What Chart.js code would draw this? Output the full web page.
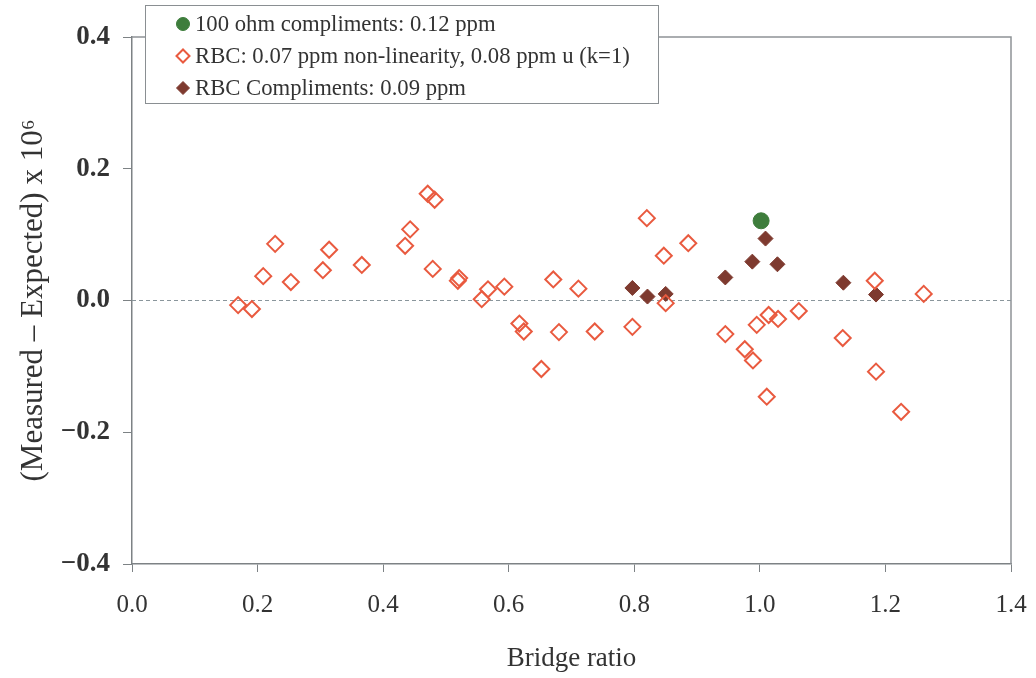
<!DOCTYPE html>
<html>
<head>
<meta charset="utf-8">
<script src="https://cdn.jsdelivr.net/npm/chart.js@4.4.0/dist/chart.umd.min.js"></script>
<style>
  html, body { margin: 0; padding: 0; background: #ffffff; }
  #wrap { width: 1036px; height: 678px; position: relative; }
</style>
</head>
<body>
<div id="wrap"><canvas id="c" width="1036" height="678"></canvas></div>
<script>
// ---- Data ----
const ohmX = [1.002];
const ohmY = [0.121];

const rbcX = [0.169, 0.191, 0.209, 0.228, 0.253, 0.304, 0.314, 0.366, 0.435, 0.443,
              0.471, 0.482, 0.479, 0.521, 0.519, 0.557, 0.567, 0.593, 0.617, 0.624,
              0.652, 0.671, 0.680, 0.711, 0.737, 0.797, 0.820, 0.847, 0.850, 0.886,
              0.945, 0.976, 0.989, 0.995, 1.011, 1.014, 1.029, 1.062, 1.132, 1.183,
              1.185, 1.225, 1.261];
const rbcY = [-0.007, -0.013, 0.037, 0.086, 0.028, 0.046, 0.077, 0.054, 0.083, 0.108,
              0.162, 0.153, 0.048, 0.034, 0.030, 0.002, 0.017, 0.021, -0.035, -0.047,
              -0.104, 0.032, -0.048, 0.018, -0.047, -0.040, 0.125, 0.068, -0.004, 0.087,
              -0.051, -0.074, -0.091, -0.037, -0.146, -0.022, -0.028, -0.016, -0.057, 0.030,
              -0.108, -0.169, 0.010];

const compX = [0.797, 0.821, 0.850, 0.945, 0.988, 1.009, 1.028, 1.133, 1.185];
const compY = [0.019, 0.006, 0.010, 0.035, 0.059, 0.094, 0.055, 0.027, 0.009];

const zeroLineX = [0, 1.4];
const zeroLineY = [0, 0];

const xTicks = [0, 0.2, 0.4, 0.6, 0.8, 1.0, 1.2, 1.4];
const yTicks = [-0.4, -0.2, 0.0, 0.2, 0.4];

const labels = {
  ohm: '100 ohm compliments: 0.12 ppm',
  rbc: 'RBC: 0.07 ppm non-linearity, 0.08 ppm u (k=1)',
  comp: 'RBC Compliments: 0.09 ppm',
  xTitle: 'Bridge ratio',
  yTitle: '(Measured \u2013 Expected) x 10\u2076'
};

const pts = (xs, ys) => xs.map((x, i) => ({ x: x, y: ys[i] }));

const SERIF = '"Liberation Serif", "Times New Roman", "DejaVu Serif", serif';
const TEXT = '#333333';
const AXIS = '#7d8285';
const fmt = v => {
  const r = Math.round(v * 10) / 10;
  return (r < 0 ? '\u2212' : '') + Math.abs(r).toFixed(1);
};

// Frame (top/right border) plugin
const framePlugin = {
  id: 'frame',
  beforeDatasetsDraw(chart) {
    const { ctx, chartArea: a } = chart;
    ctx.save();
    ctx.strokeStyle = '#8e9396';
    ctx.lineWidth = 1.5;
    ctx.beginPath();
    ctx.moveTo(a.left, a.top);
    ctx.lineTo(a.right, a.top);
    ctx.lineTo(a.right, a.bottom);
    ctx.stroke();
    ctx.restore();
  }
};

// Boxed legend drawn over the top-left of the chart
const legendBox = {
  id: 'legendBox',
  afterDraw(chart) {
    const { ctx } = chart;
    const bx = 145, by = 5, bw = 513, bh = 98;
    ctx.save();
    ctx.fillStyle = '#ffffff';
    ctx.fillRect(bx, by, bw, bh);
    ctx.strokeStyle = '#8a8f92';
    ctx.lineWidth = 1;
    ctx.strokeRect(bx + 0.5, by + 0.5, bw, bh);
    [0, 1, 2].forEach((di, i) => {
      const ds = chart.data.datasets[di];
      const y = 24 + i * 32;
      ctx.fillStyle = ds.backgroundColor;
      ctx.strokeStyle = ds.borderColor;
      ctx.lineWidth = ds.borderWidth;
      Chart.helpers.drawPoint(ctx, {
        pointStyle: ds.pointStyle,
        radius: ds.legendRadius,
        borderWidth: ds.borderWidth
      }, 183, y);
      ctx.fillStyle = TEXT;
      ctx.font = '22.7px ' + SERIF;
      ctx.textBaseline = 'middle';
      ctx.textAlign = 'left';
      ctx.fillText(ds.label, 195, y + 1);
    });
    ctx.restore();
  }
};

new Chart(document.getElementById('c'), {
  type: 'scatter',
  data: {
    datasets: [
      {
        label: labels.ohm,
        data: pts(ohmX, ohmY),
        pointStyle: 'circle',
        pointRadius: 8,
        legendRadius: 6.5,
        backgroundColor: '#3e7d3c',
        borderColor: '#3e7d3c',
        borderWidth: 1
      },
      {
        label: labels.rbc,
        data: pts(rbcX, rbcY),
        pointStyle: 'rectRot',
        pointRadius: 8,
        legendRadius: 6.5,
        backgroundColor: 'rgba(255,255,255,0)',
        borderColor: '#e95a3f',
        borderWidth: 2
      },
      {
        label: labels.comp,
        data: pts(compX, compY),
        pointStyle: 'rectRot',
        pointRadius: 7.5,
        legendRadius: 6.5,
        backgroundColor: '#7e3a2f',
        borderColor: '#7e3a2f',
        borderWidth: 1
      },
      {
        type: 'line',
        label: 'zero',
        data: pts(zeroLineX, zeroLineY),
        borderColor: '#8a969c',
        borderWidth: 1,
        borderDash: [4, 3],
        pointRadius: 0,
        fill: false,
        order: 10
      }
    ]
  },
  options: {
    responsive: false,
    devicePixelRatio: 1,
    animation: false,
    layout: { padding: { top: 37, right: 25, left: 0, bottom: 0 } },
    plugins: {
      legend: { display: false },
      tooltip: { enabled: false },
      title: { display: false }
    },
    scales: {
      x: {
        type: 'linear',
        min: 0, max: 1.4,
        afterFit(s) { s.height = 114; s.paddingRight = 0; s.paddingLeft = 0; },
        afterBuildTicks(s) { s.ticks = xTicks.map(v => ({ value: v })); },
        grid: { display: true, drawOnChartArea: false, drawTicks: true, tickLength: 8, color: AXIS, lineWidth: 1 },
        border: { display: true, color: AXIS, width: 1.5 },
        ticks: {
          color: TEXT,
          font: { family: SERIF, size: 25 },
          padding: 18,
          maxRotation: 0,
          callback: v => fmt(v)
        },
        title: {
          display: true,
          text: labels.xTitle,
          color: TEXT,
          font: { family: SERIF, size: 27 },
          padding: { top: 0, bottom: 3 }
        }
      },
      y: {
        type: 'linear',
        min: -0.4, max: 0.4,
        afterFit(s) { s.width = 132; s.paddingTop = 0; s.paddingBottom = 0; },
        afterBuildTicks(s) { s.ticks = yTicks.map(v => ({ value: v })); },
        grid: { display: true, drawOnChartArea: false, drawTicks: true, tickLength: 9, color: AXIS, lineWidth: 1 },
        border: { display: true, color: AXIS, width: 1.5 },
        ticks: {
          color: TEXT,
          font: { family: SERIF, size: 27, weight: 'bold' },
          padding: 13,
          callback: v => fmt(v)
        },
        title: {
          display: true,
          text: labels.yTitle,
          color: TEXT,
          font: { family: SERIF, size: 31 },
          padding: { top: 15, bottom: 0 }
        }
      }
    }
  },
  plugins: [framePlugin, legendBox]
});
</script>
</body>
</html>
